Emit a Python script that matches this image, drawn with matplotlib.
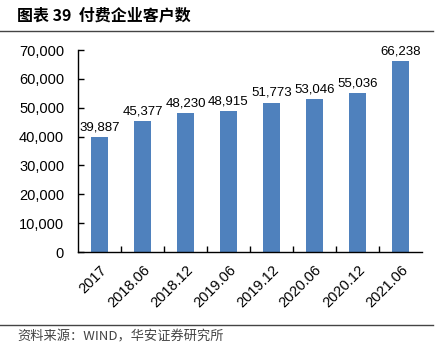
import matplotlib.pyplot as plt

plt.rcParams['font.family'] = ['Liberation Sans', 'Noto Sans CJK SC', 'DejaVu Sans']

periods = ["2017", "2018.06", "2018.12", "2019.06", "2019.12", "2020.06", "2020.12", "2021.06"]
customers = [39887, 45377, 48230, 48915, 51773, 53046, 55036, 66238]

fig = plt.figure(figsize=(4.41, 3.53), dpi=100)
ax = fig.add_axes([78 / 441, 1 - 252 / 353, 344 / 441, 202 / 353])

x = range(len(periods))
ax.bar(x, customers, width=0.4, color="#4F81BD")
for i, v in zip(x, customers):
    ax.text(i, v + 1300, f"{v:,}", ha="center", va="bottom", fontsize=9.5)

ax.set_xlim(-0.5, len(periods) - 0.5)
ax.set_ylim(0, 70000)
ax.set_yticks(range(0, 70001, 10000))
ax.set_yticklabels([f"{t:,}" for t in range(0, 70001, 10000)], fontsize=10.5)
ax.tick_params(axis="y", direction="in", length=4, width=1, pad=10)

ax.set_xticks([i + 0.5 for i in range(len(periods) - 1)], minor=True)
ax.set_xticks(list(x))
ax.set_xticklabels(periods, rotation=45, ha="right", rotation_mode="anchor", fontsize=10.5)
ax.tick_params(axis="x", which="major", length=0, pad=8)
ax.tick_params(axis="x", which="minor", direction="in", length=4, width=1)

for s in ["top", "right"]:
    ax.spines[s].set_visible(False)
for s in ["left", "bottom"]:
    ax.spines[s].set_linewidth(1)

fig.text(17 / 441, 1 - 15 / 353, "图表 39  付费企业客户数", fontsize=11.5, fontweight="bold",
         family=["Noto Sans CJK SC"], va="center", ha="left")
fig.add_artist(plt.Line2D([0, 433 / 441], [1 - 31 / 353] * 2, color="#444444", lw=1))
fig.add_artist(plt.Line2D([0, 433 / 441], [1 - 325 / 353] * 2, color="#444444", lw=1))
fig.text(17 / 441, 1 - 337 / 353, "资料来源：WIND，华安证券研究所", fontsize=9.5, color="#444444",
         family=["Noto Sans CJK SC", "Liberation Sans"], va="center", ha="left")

fig.savefig("out.png", dpi=100)
